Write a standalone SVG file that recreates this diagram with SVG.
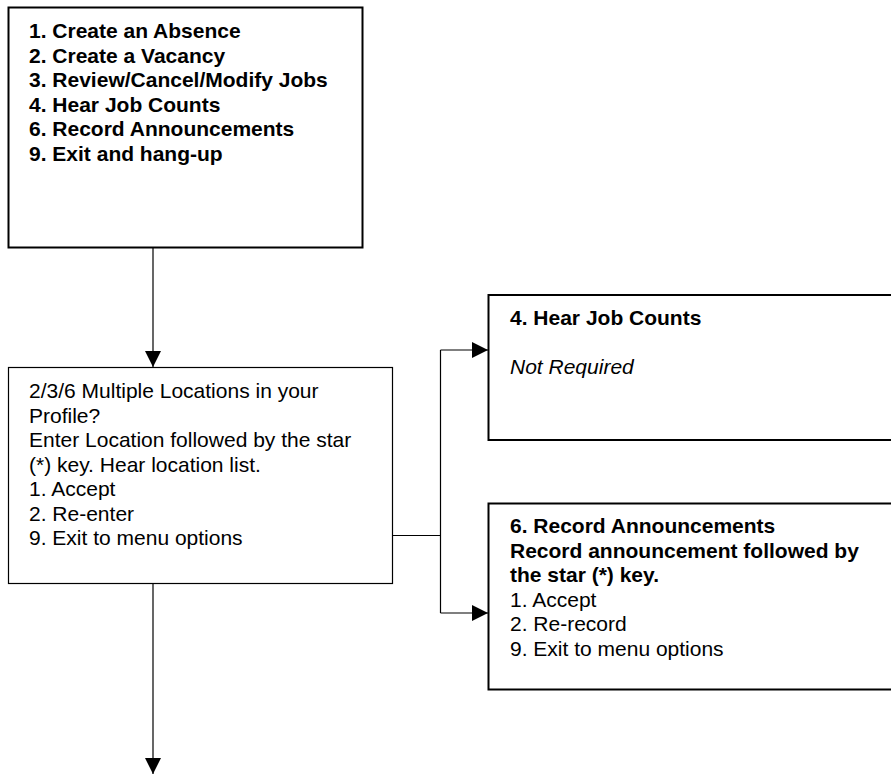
<svg xmlns="http://www.w3.org/2000/svg" width="891" height="775" viewBox="0 0 891 775">
<style>
text{font-family:"Liberation Sans",Arial,sans-serif;font-size:21px;fill:#000}
.b{font-weight:bold}
.i{font-style:italic}
.thick{fill:#fff;stroke:#000;stroke-width:2}
.thin{fill:#fff;stroke:#000;stroke-width:1.2}
.conn{fill:none;stroke:#000;stroke-width:1.2}
</style>
<defs>
<marker id="arr" viewBox="0 0 16 16" refX="16" refY="8" markerWidth="16" markerHeight="16" markerUnits="userSpaceOnUse" orient="auto">
<path d="M0,0 L16,8 L0,16 Z" fill="#000"/>
</marker>
</defs>
<g id="main-menu">
<rect class="thick" x="8.5" y="7.5" width="354" height="240"/>
<text class="b" x="29" y="38">1. Create an Absence</text>
<text class="b" x="29" y="62.5">2. Create a Vacancy</text>
<text class="b" x="29" y="87">3. Review/Cancel/Modify Jobs</text>
<text class="b" x="29" y="111.5">4. Hear Job Counts</text>
<text class="b" x="29" y="136">6. Record Announcements</text>
<text class="b" x="29" y="160.5">9. Exit and hang-up</text>
</g>
<g id="locations">
<rect class="thin" x="8.5" y="367.5" width="384" height="216"/>
<text x="29" y="398">2/3/6 Multiple Locations in your</text>
<text x="29" y="422.5">Profile?</text>
<text x="29" y="447">Enter Location followed by the star</text>
<text x="29" y="471.5">(*) key. Hear location list.</text>
<text x="29" y="496">1. Accept</text>
<text x="29" y="520.5">2. Re-enter</text>
<text x="29" y="545">9. Exit to menu options</text>
</g>
<g id="job-counts">
<rect class="thick" x="488.5" y="295" width="410" height="145"/>
<text class="b" x="510" y="325">4. Hear Job Counts</text>
<text class="i" x="510" y="374">Not Required</text>
</g>
<g id="record-announcements">
<rect class="thick" x="488.5" y="503.5" width="410" height="186"/>
<text class="b" x="510" y="533">6. Record Announcements</text>
<text class="b" x="510" y="557.5">Record announcement followed by</text>
<text class="b" x="510" y="582">the star (*) key.</text>
<text x="510" y="606.5">1. Accept</text>
<text x="510" y="631">2. Re-record</text>
<text x="510" y="655.5">9. Exit to menu options</text>
</g>
<g id="connectors">
<path class="conn" d="M153,248 V367" marker-end="url(#arr)"/>
<path class="conn" d="M393,535.5 H440.5"/>
<path class="conn" d="M440.5,350 V613"/>
<path class="conn" d="M440.5,350 H488" marker-end="url(#arr)"/>
<path class="conn" d="M440.5,613 H488" marker-end="url(#arr)"/>
<path class="conn" d="M153,584 V774" marker-end="url(#arr)"/>
</g>
</svg>
